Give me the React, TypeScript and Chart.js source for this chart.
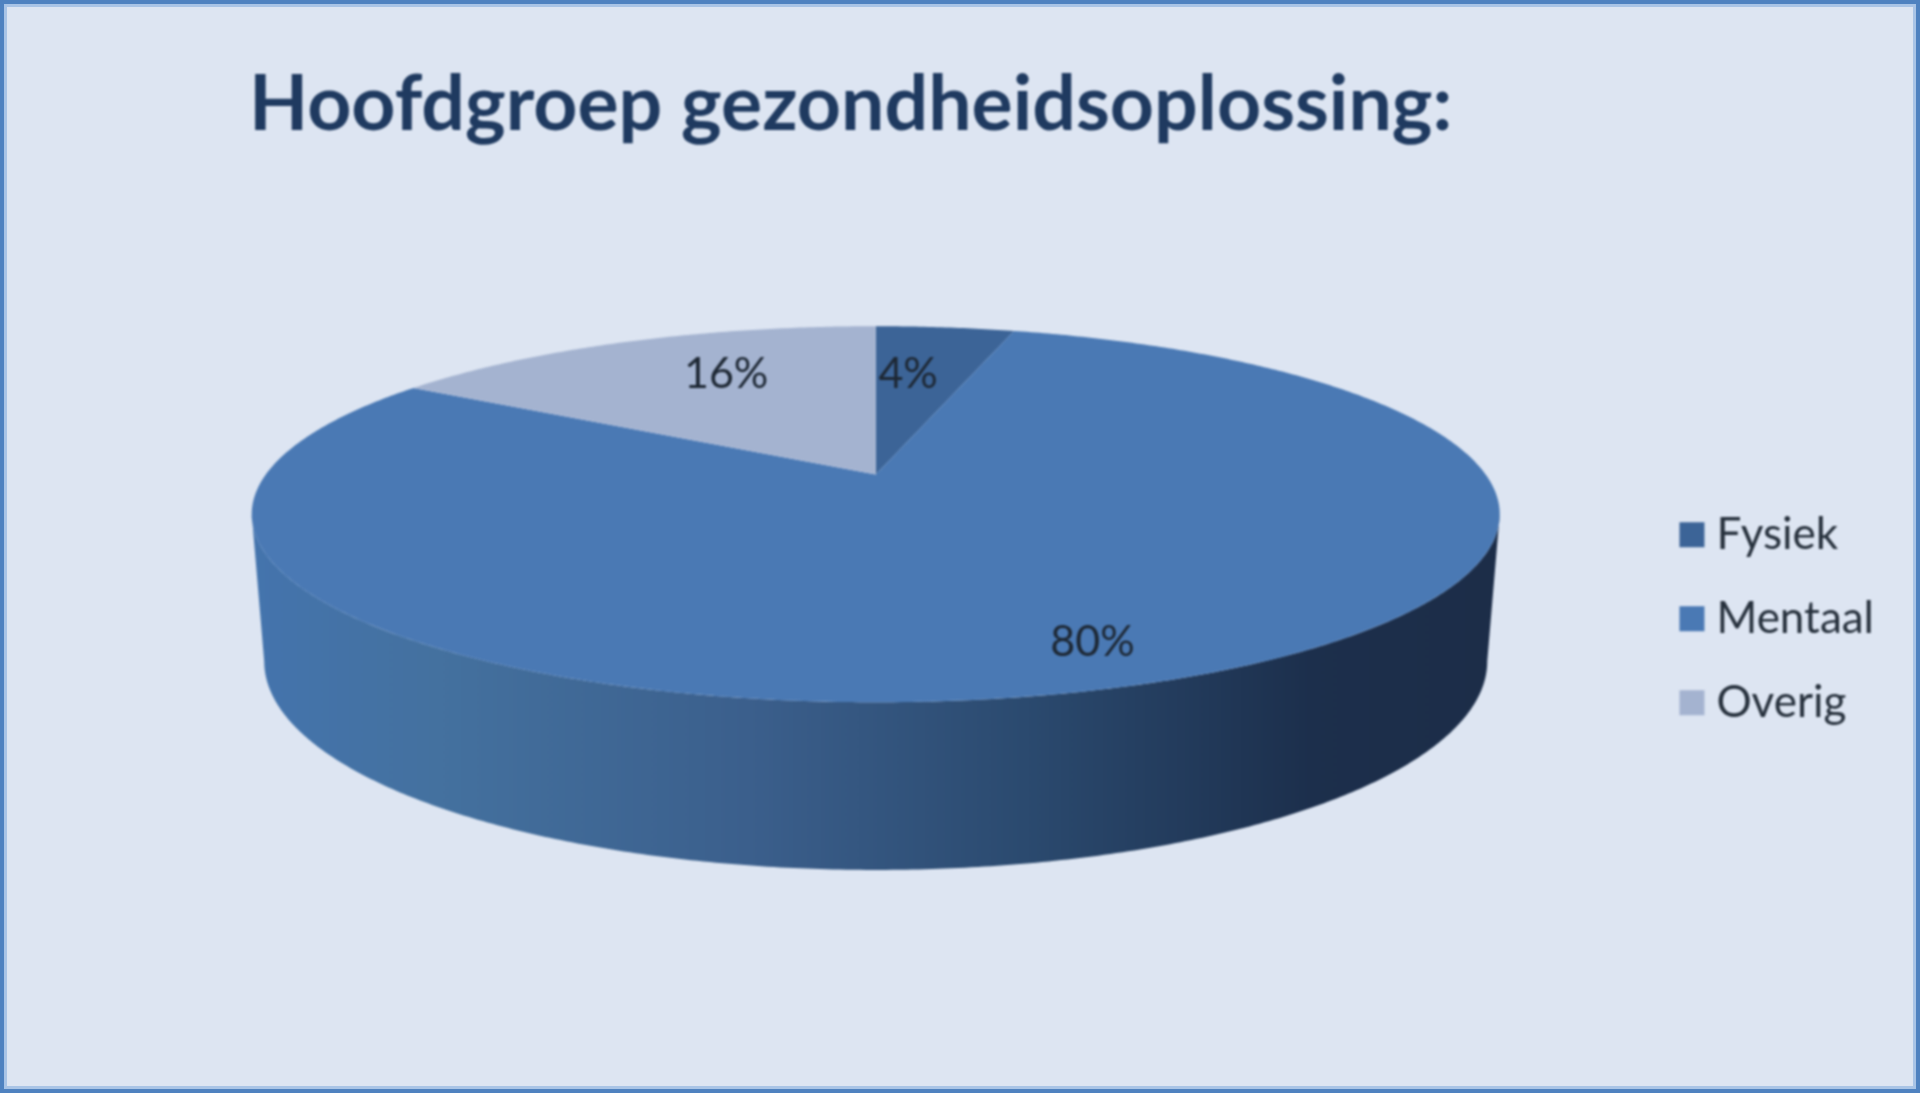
import React, { useEffect, useRef } from "react";
import { Chart, registerables } from "chart.js";

Chart.register(...registerables);

const titleText = "Hoofdgroep gezondheidsoplossing:";
const categories = ["Fysiek", "Mentaal", "Overig"];
const shares = [4.4, 79.6, 16];
const shownLabels = ["4%", "80%", "16%"];
const sliceColors = ["#3c6497", "#4a79b4", "#a4b3d0"];
const labelRadius = [0.637, 0.833, 0.692];
const labelAngleShift = [-2.5, 0, 5.1];
const wallStops: [number, string][] = [
  [0, "#4474ad"],
  [0.15, "#44719f"],
  [0.4, "#3b5f8c"],
  [0.62, "#2b4a6f"],
  [0.85, "#1c2f4c"],
  [1, "#1c2d48"],
];

const K = -0.2117; // perspective strength
const AX = 1.338; // horizontal radius factor
const BY = 0.394; // vertical radius factor
const APEX_SHIFT = -0.3165; // apex shift relative to radius
const WALL_BASE = 147;
const WALL_GROW = 0.11;
const WALL_NARROW = 0.98;
const TITLE_LEFT = 249;

function project(el: any, angle: number, frac = 1) {
  const R = el.outerRadius;
  const X = Math.cos(angle) * frac;
  const Y = Math.sin(angle) * frac;
  const d = 1 + K * Y;
  return { x: el.x + (AX * R * X) / d, y: el.y + APEX_SHIFT * R + (BY * R * Y) / d };
}

function lower(el: any, p: { x: number; y: number }) {
  const R = el.outerRadius;
  const midY = el.y + APEX_SHIFT * R + 0.2217 * BY * R;
  return {
    x: el.x + (p.x - el.x) * WALL_NARROW,
    y: p.y + WALL_BASE + (p.y - midY) * WALL_GROW,
  };
}

const pie3d = {
  id: "pie3d",
  beforeDraw(chart: any) {
    if (chart.titleBlock) chart.titleBlock.left = TITLE_LEFT;
  },
  beforeDatasetDraw(chart: any, args: any) {
    const ctx = chart.ctx;
    const arcs = args.meta.data;
    const front0 = Math.asin(-K);
    const front1 = Math.PI - front0;
    const STEP = Math.PI / 360;
    arcs.forEach((el: any) => {
      const s = Math.max(el.startAngle, front0);
      const e = Math.min(el.endAngle, front1);
      if (e <= s) return;
      const top: { x: number; y: number }[] = [];
      for (let a = s; a < e; a += STEP) top.push(project(el, a));
      top.push(project(el, e));
      const left = project(el, front1).x;
      const right = project(el, front0).x;
      const g = ctx.createLinearGradient(left, 0, right, 0);
      wallStops.forEach(([o, c]) => g.addColorStop(o, c));
      ctx.beginPath();
      top.forEach((p, i) => (i ? ctx.lineTo(p.x, p.y) : ctx.moveTo(p.x, p.y)));
      top
        .slice()
        .reverse()
        .forEach((p) => {
          const q = lower(el, p);
          ctx.lineTo(q.x, q.y);
        });
      ctx.closePath();
      ctx.fillStyle = g;
      ctx.fill();
    });
    arcs.forEach((el: any, i: number) => {
      ctx.beginPath();
      const apex = project(el, 0, 0);
      ctx.moveTo(apex.x, apex.y);
      for (let a = el.startAngle; a < el.endAngle; a += STEP) {
        const p = project(el, a);
        ctx.lineTo(p.x, p.y);
      }
      const p = project(el, el.endAngle);
      ctx.lineTo(p.x, p.y);
      ctx.closePath();
      ctx.fillStyle = sliceColors[i];
      ctx.fill();
    });
    return false;
  },
  afterDatasetsDraw(chart: any) {
    const ctx = chart.ctx;
    const arcs = chart.getDatasetMeta(0).data;
    ctx.save();
    ctx.font = "43px Lato";
    ctx.fillStyle = "#1d2733";
    ctx.textAlign = "center";
    ctx.textBaseline = "middle";
    arcs.forEach((el: any, i: number) => {
      const mid = (el.startAngle + el.endAngle) / 2 + (labelAngleShift[i] * Math.PI) / 180;
      const p = project(el, mid, labelRadius[i]);
      ctx.fillText(shownLabels[i], p.x, p.y);
    });
    ctx.restore();
  },
};

export default function App() {
  const ref = useRef<HTMLCanvasElement>(null);
  useEffect(() => {
    const chart = new Chart(ref.current as HTMLCanvasElement, {
      type: "pie",
      data: {
        labels: categories,
        datasets: [{ data: shares, backgroundColor: sliceColors, borderWidth: 0 }],
      },
      plugins: [pie3d],
      options: {
        responsive: false,
        animation: false,
        layout: { padding: { left: 102, top: 59, right: 36, bottom: 18.5 } },
        plugins: {
          tooltip: { enabled: false },
          title: {
            display: true,
            text: titleText,
            align: "start",
            color: "#1f3a60",
            font: { family: "Lato", size: 77, weight: "bold" },
            padding: { top: 0, bottom: 11.5 },
          },
          legend: {
            position: "right",
            fullSize: false,
            labels: {
              font: { family: "Lato", size: 44 },
              color: "#26303c",
              usePointStyle: true,
              pointStyle: "rect",
              boxWidth: 5,
              boxHeight: 25,
              padding: 40,
            },
          },
        },
      },
    } as any);
    return () => chart.destroy();
  }, []);
  return (
    <div
      style={{
        position: "fixed",
        left: 0,
        top: 0,
        width: 1920,
        height: 1093,
        boxSizing: "border-box",
        overflow: "hidden",
        background: "#dde5f2",
      }}
    >
      <canvas
        ref={ref}
        width={1920}
        height={1093}
        style={{ display: "block", width: 1920, height: 1093, filter: "blur(0.9px)" }}
      />
      <div
        style={{
          position: "absolute",
          inset: 0,
          border: "4px solid #4f82c0",
          boxShadow: "inset 0 0 0 3px #a9c4e6",
          boxSizing: "border-box",
        }}
      />
    </div>
  );
}
